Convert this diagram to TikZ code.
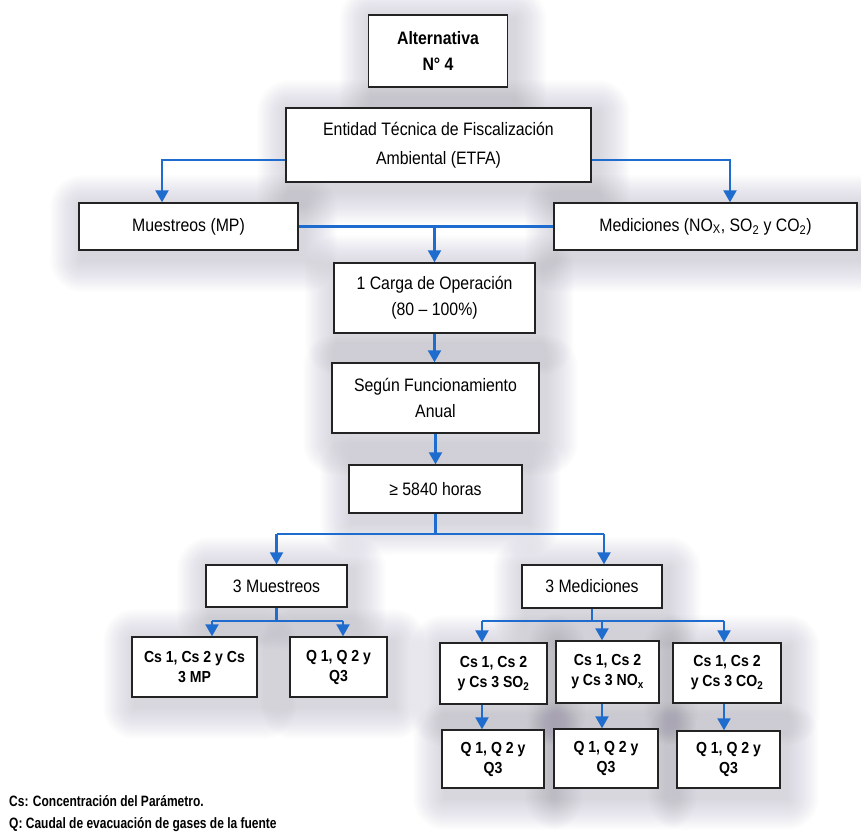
\documentclass[tikz,border=0pt]{standalone}
\usepackage{fontspec}
\setmainfont{Liberation Sans}[FakeStretch=0.88]
\newfontfamily\narrowfont{Liberation Sans}[FakeStretch=0.80]
\usetikzlibrary{arrows.meta,calc}
\pgfdeclarelayer{bg}
\pgfsetlayers{bg,main}
\definecolor{linkblue}{RGB}{30,108,205}
\definecolor{hazecol}{RGB}{110,104,126}
\definecolor{edgecol}{RGB}{35,35,35}

% soft halo behind a box
\newcommand{\haze}[1]{%
  \foreach \r in {2,4,...,32}{%
    \fill[hazecol, opacity=0.016, rounded corners=\r pt]
      ($(#1.north west)+(4-\r,5-\r)$) rectangle ($(#1.south east)+(6+\r,9+\r)$);
  }}

\tikzset{
  box/.style={draw=edgecol, fill=white, line width=1.4pt, align=center,
    inner sep=0pt, font=\fontsize{18}{26}\selectfont},
  boldbox/.style={box, font=\bfseries\fontsize{18}{26}\selectfont},
  smallbox/.style={box, font=\bfseries\fontsize{16}{20}\selectfont},
  conn/.style={draw=linkblue, line width=2.2pt},
  arr/.style={conn, -{Triangle[width=13pt,length=12pt]}},
  note/.style={anchor=west, inner sep=0pt, font=\narrowfont\bfseries\fontsize{15}{18}\selectfont}
}

\begin{document}
\begin{tikzpicture}[x=1pt,y=-1pt]
\useasboundingbox (0,0) rectangle (861,839);

% boxes
\node[boldbox, minimum width=139pt, minimum height=72pt] (alt) at (438,51) {Alternativa\\N° 4};
\node[box, minimum width=305pt, minimum height=74pt, font=\fontsize{18}{29}\selectfont] (etfa) at (438.5,145) {Entidad Técnica de Fiscalización\\Ambiental (ETFA)};
\node[box, minimum width=219pt, minimum height=47pt] (mp) at (188.5,226.5) {Muestreos (MP)};
\node[box, minimum width=303pt, minimum height=47pt] (med) at (705.5,226.5) {Mediciones (NO\textsubscript{X}, SO\textsubscript{2} y CO\textsubscript{2})};
\node[box, minimum width=201pt, minimum height=70pt] (carga) at (434.5,298) {1 Carga de Operación\\(80 – 100\%)};
\node[box, minimum width=207pt, minimum height=70pt] (segun) at (435.5,398) {Según Funcionamiento\\Anual};
\node[box, minimum width=173pt, minimum height=48pt] (horas) at (435.5,489) {≥ 5840 horas};
\node[box, minimum width=141pt, minimum height=42pt] (mu3) at (276.5,586) {3 Muestreos};
\node[box, minimum width=140pt, minimum height=43pt] (me3) at (592,586.5) {3 Mediciones};
\node[smallbox, minimum width=125pt, minimum height=60pt] (csmp) at (194.5,667) {Cs 1, Cs 2 y Cs\\3 MP};
\node[smallbox, minimum width=97pt, minimum height=60pt] (qmp) at (338.5,667) {Q 1, Q 2 y\\Q3};
\node[smallbox, minimum width=107pt, minimum height=61pt] (cs1) at (493.5,673.5) {Cs 1, Cs 2\\y Cs 3 SO\textsubscript{2}};
\node[smallbox, minimum width=103pt, minimum height=62pt] (cs2) at (607.5,672) {Cs 1, Cs 2\\y Cs 3 NO\textsubscript{x}};
\node[smallbox, minimum width=108pt, minimum height=60pt] (cs3) at (727,673) {Cs 1, Cs 2\\y Cs 3 CO\textsubscript{2}};
\node[smallbox, minimum width=102pt, minimum height=58pt] (q1) at (493,759) {Q 1, Q 2 y\\Q3};
\node[smallbox, minimum width=104pt, minimum height=59pt] (q2) at (606,758.5) {Q 1, Q 2 y\\Q3};
\node[smallbox, minimum width=103pt, minimum height=57pt] (q3) at (728.5,759.5) {Q 1, Q 2 y\\Q3};

% legend
\node[note] (leg1) at (9,801) {Cs: Concentración del Parámetro.};
\node[note] (leg2) at (9,825) {Q: Caudal de evacuación de gases de la fuente};

% white page and halos, under everything
\begin{pgfonlayer}{bg}
\fill[white] (0,0) rectangle (861,839);
\foreach \b in {alt,etfa,mp,med,carga,segun,horas,mu3,me3,csmp,qmp,cs1,cs2,cs3,q1,q2,q3}{\haze{\b}}
\end{pgfonlayer}

% ETFA to the two branches
\draw[arr] (etfa.west |- 0,160) -| (mp.north -| 162,0);
\draw[arr] (etfa.east |- 0,160) -| (med.north -| 730,0);

% link between the branches, down the centre column
\draw[conn] (mp.east) -- (med.west);
\draw[arr] (carga.north |- mp.east) -- (carga.north);
\draw[arr] (carga.south) -- (carga.south |- segun.north);
\draw[arr] (segun.south) -- (segun.south |- horas.north);

% split into sampling and measurement
\coordinate (sL) at (mu3.north |- 0,534);
\coordinate (sR) at (604,534);
\draw[conn] (horas.south) -- (horas.south |- sL);
\draw[conn] (sL) -- (sR);
\draw[arr] (sL) -- (mu3.north);
\draw[arr] (sR) -- (sR |- me3.north);

% sampling results
\coordinate (mL) at (212,621);
\coordinate (mR) at (343,621);
\draw[conn] (mu3.south) -- (mu3.south |- mL);
\draw[conn] (mL) -- (mR);
\draw[arr] (mL) -- (mL |- csmp.north);
\draw[arr] (mR) -- (mR |- qmp.north);

% measurement results
\coordinate (eL) at (482,621);
\coordinate (eC) at (602,621);
\coordinate (eR) at (724,621);
\draw[conn] (me3.south) -- (me3.south |- eC);
\draw[conn] (eL) -- (eR);
\draw[arr] (eL) -- (eL |- cs1.north);
\draw[arr] (eC) -- (eC |- cs2.north);
\draw[arr] (eR) -- (eR |- cs3.north);
\draw[arr] (eL |- cs1.south) -- (eL |- q1.north);
\draw[arr] (eC |- cs2.south) -- (eC |- q2.north);
\draw[arr] (eR |- cs3.south) -- (eR |- q3.north);
\end{tikzpicture}
\end{document}
